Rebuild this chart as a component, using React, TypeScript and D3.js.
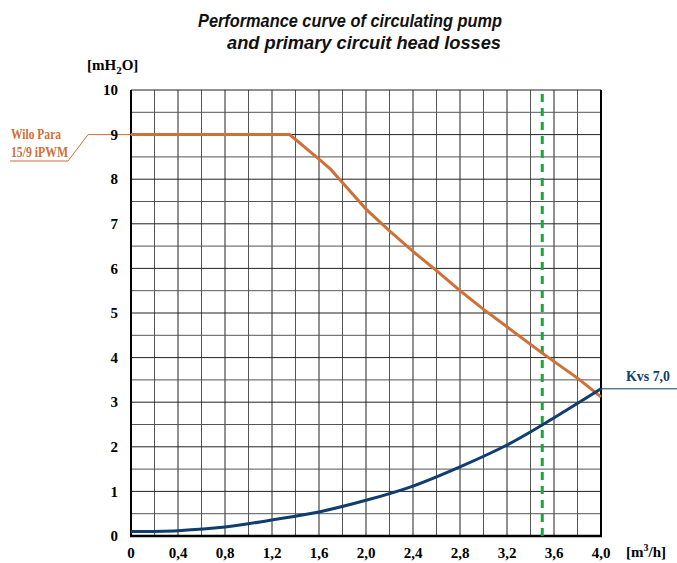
import React from 'react';
import * as d3 from 'd3';

// pump curve (Wilo Para 15/9 iPWM)
const pumpFlow = [0, 1.35, 1.6, 1.7, 1.78, 2.0, 2.2, 2.4, 2.6, 2.8, 3.0, 3.2, 3.5, 3.8, 4.0];
const pumpHead = [9, 9, 8.45, 8.22, 7.98, 7.33, 6.84, 6.38, 5.95, 5.5, 5.08, 4.69, 4.1, 3.54, 3.12];

// primary circuit head losses (Kvs 7,0)
const lossFlow = [0, 0.4, 0.8, 1.2, 1.6, 2.0, 2.4, 2.8, 3.2, 3.5, 4.0];
const lossHead = [0.1, 0.12, 0.2, 0.36, 0.54, 0.8, 1.12, 1.55, 2.04, 2.49, 3.3];

const xTicks = ['0', '0,4', '0,8', '1,2', '1,6', '2,0', '2,4', '2,8', '3,2', '3,6', '4,0'];
const yTicks = ['0', '1', '2', '3', '4', '5', '6', '7', '8', '9', '10'];
const workingFlow = 3.5;

export default function App() {
  const W = 677, H = 563;
  const margin = { top: 90, right: 76, bottom: 27, left: 131 };

  const x = d3.scaleLinear().domain([0, 4]).range([margin.left, W - margin.right]);
  const y = d3.scaleLinear().domain([0, 10]).range([H - margin.bottom, margin.top]);

  // grid every 0.2 on x and 0.5 on y
  const xGrid = d3.range(0, 4.0001, 0.2);
  const yGrid = d3.range(0, 10.0001, 0.5);

  const pumpLine = d3.line<number>()
    .x((_, i) => x(pumpFlow[i]))
    .y(d => y(d))
    .curve(d3.curveLinear);

  const lossLine = d3.line<number>()
    .x((_, i) => x(lossFlow[i]))
    .y(d => y(d))
    .curve(d3.curveCatmullRom);

  const orange = '#d06f36';
  const blue = '#0f3d6e';
  const serif = '"Liberation Serif", "Times New Roman", serif';

  const pumpY = y(pumpHead[0]);
  const lossEndY = y(lossHead[lossHead.length - 1]);

  return (
    <div style={{ position: 'absolute', left: 0, top: 0 }}>
      <svg width={W} height={H} style={{ display: 'block', background: '#fff' }}>
        {/* title */}
        <g fontFamily='"Liberation Sans", Arial, sans-serif' fontWeight="bold" fontStyle="italic"
          fontSize={18} fill="#111">
          <text x={198} y={27} textLength={304} lengthAdjust="spacingAndGlyphs">Performance curve of circulating pump</text>
          <text x={227} y={49} textLength={274} lengthAdjust="spacingAndGlyphs">and primary circuit head losses</text>
        </g>

        {/* grid */}
        {xGrid.map((v, i) => (
          <line key={'gx' + i} x1={x(v)} x2={x(v)} y1={y(0)} y2={y(10)}
            stroke={i % 2 ? '#555' : '#222'} strokeWidth={1} />
        ))}
        {yGrid.map((v, i) => (
          <line key={'gy' + i} x1={x(0)} x2={x(4)} y1={y(v)} y2={y(v)}
            stroke={i % 2 ? '#555' : '#222'} strokeWidth={1} />
        ))}

        {/* frame */}
        <line x1={x(0)} x2={x(0)} y1={y(0) + 1} y2={y(10)} stroke="#000" strokeWidth={2} />
        <line x1={x(4)} x2={x(4)} y1={y(0) + 1} y2={y(10)} stroke="#000" strokeWidth={2} />
        <line x1={x(0) - 1} x2={x(4) + 1} y1={y(0)} y2={y(0)} stroke="#000" strokeWidth={2.5} />

        {/* working point flow */}
        <line x1={x(workingFlow)} x2={x(workingFlow)} y1={y(0)} y2={y(10)}
          stroke="#17a83b" strokeWidth={3} strokeDasharray="8,6" />

        {/* curves */}
        <path d={pumpLine(pumpHead) || ''} fill="none" stroke={orange} strokeWidth={3} />
        <path d={lossLine(lossHead) || ''} fill="none" stroke={blue} strokeWidth={3} />

        {/* pump label with leader */}
        <polyline points={`${x(0)},${pumpY} 88,${pumpY} 68,161 10,161`} fill="none" stroke={orange} strokeWidth={1} />
        <g fontFamily={serif} fontWeight="bold" fontSize={15} fill={orange}>
          <text x={11} y={139} textLength={50} lengthAdjust="spacingAndGlyphs">Wilo Para</text>
          <text x={11} y={157} textLength={57} lengthAdjust="spacingAndGlyphs">15/9 iPWM</text>
        </g>

        {/* losses label with leader */}
        <line x1={x(4)} x2={W} y1={lossEndY} y2={lossEndY} stroke={blue} strokeWidth={1} />
        <text x={626} y={381} fontFamily={serif} fontWeight="bold" fontSize={15} fill={blue}
          textLength={44} lengthAdjust="spacingAndGlyphs">Kvs 7,0</text>

        {/* y ticks */}
        <g fontFamily={serif} fontWeight="bold" fontSize={15} fill="#000" textAnchor="end">
          {yTicks.map((t, i) => (
            <text key={'yt' + i} x={118} y={y(i)} dy="0.35em">{t}</text>
          ))}
        </g>
        {/* x ticks */}
        <g fontFamily={serif} fontWeight="bold" fontSize={15} fill="#000" textAnchor="middle">
          {xTicks.map((t, i) => (
            <text key={'xt' + i} x={x(i * 0.4)} y={558}>{t}</text>
          ))}
        </g>

        {/* units */}
        <text x={87} y={70} fontFamily={serif} fontWeight="bold" fontSize={15} fill="#000">
          [mH<tspan dy={4} fontSize={11}>2</tspan><tspan dy={-4}>O]</tspan>
        </text>
        <text x={626} y={557} fontFamily={serif} fontWeight="bold" fontSize={15} fill="#000">
          [m<tspan dy={-6} fontSize={10}>3</tspan><tspan dy={6}>/h]</tspan>
        </text>
      </svg>
    </div>
  );
}
